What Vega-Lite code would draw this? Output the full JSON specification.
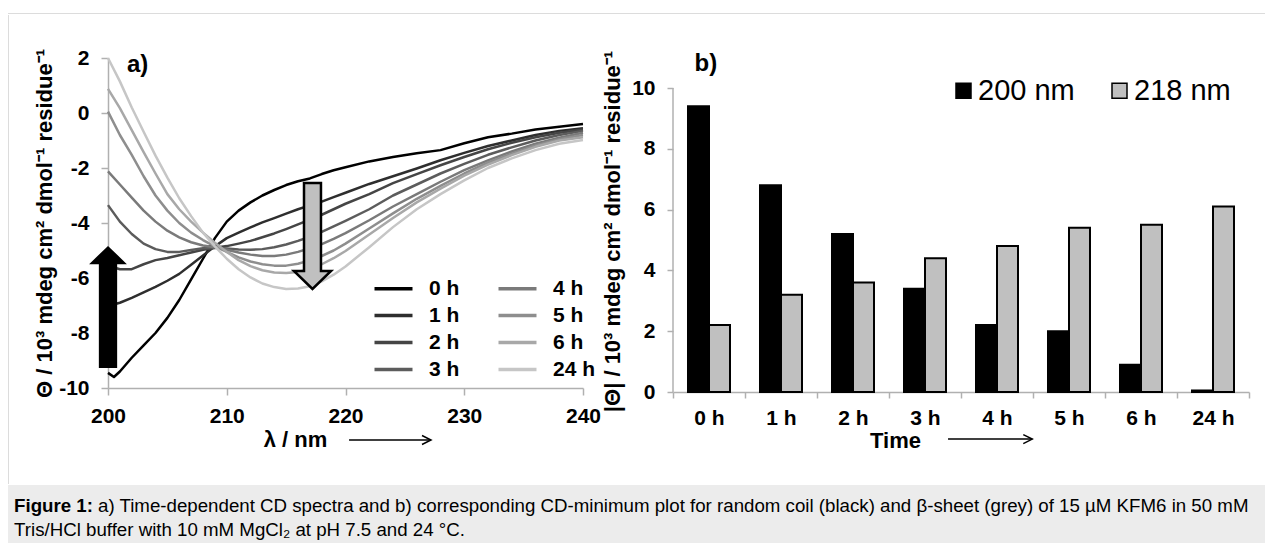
{
  "$schema": "https://vega.github.io/schema/vega-lite/v6.json",
  "background": "white",
  "padding": {"left": 8, "top": 13, "right": 0, "bottom": 0},
  "spacing": 0,
  "config": {
    "view": {"stroke": null},
    "font": "Liberation Sans",
    "axis": {"labelFont": "Liberation Sans", "titleFont": "Liberation Sans", "labelColor": "#000000", "titleColor": "#000000", "labelFontSize": 21, "labelFontWeight": "bold", "titleFontSize": 22, "titleFontWeight": "bold", "domainColor": "#b0b0b0", "tickColor": "#b0b0b0", "domainWidth": 1.5, "tickWidth": 1.5, "grid": false},
    "legend": {"labelFont": "Liberation Sans", "labelColor": "#000000"}
  },
  "datasets": {
    "spectra": [
      {"time":"0 h","nm":200,"v":-9.45},{"time":"0 h","nm":200.5,"v":-9.6},{"time":"0 h","nm":201,"v":-9.4},{"time":"0 h","nm":202,"v":-8.9},{"time":"0 h","nm":203,"v":-8.45},{"time":"0 h","nm":204,"v":-8.0},{"time":"0 h","nm":205,"v":-7.45},{"time":"0 h","nm":206,"v":-6.8},{"time":"0 h","nm":207,"v":-6.05},{"time":"0 h","nm":208,"v":-5.3},{"time":"0 h","nm":209,"v":-4.55},{"time":"0 h","nm":210,"v":-3.95},{"time":"0 h","nm":211,"v":-3.55},{"time":"0 h","nm":212,"v":-3.25},{"time":"0 h","nm":213,"v":-3.0},{"time":"0 h","nm":214,"v":-2.8},{"time":"0 h","nm":215,"v":-2.62},{"time":"0 h","nm":216,"v":-2.48},{"time":"0 h","nm":217,"v":-2.38},{"time":"0 h","nm":218,"v":-2.22},{"time":"0 h","nm":219,"v":-2.08},{"time":"0 h","nm":220,"v":-1.97},{"time":"0 h","nm":222,"v":-1.76},{"time":"0 h","nm":224,"v":-1.6},{"time":"0 h","nm":226,"v":-1.46},{"time":"0 h","nm":228,"v":-1.35},{"time":"0 h","nm":230,"v":-1.1},{"time":"0 h","nm":232,"v":-0.88},{"time":"0 h","nm":234,"v":-0.75},{"time":"0 h","nm":236,"v":-0.6},{"time":"0 h","nm":238,"v":-0.5},{"time":"0 h","nm":240,"v":-0.4},
      {"time":"1 h","nm":200,"v":-7.02},{"time":"1 h","nm":201,"v":-6.9},{"time":"1 h","nm":202,"v":-6.72},{"time":"1 h","nm":203,"v":-6.52},{"time":"1 h","nm":204,"v":-6.32},{"time":"1 h","nm":205,"v":-6.1},{"time":"1 h","nm":206,"v":-5.85},{"time":"1 h","nm":207,"v":-5.52},{"time":"1 h","nm":208,"v":-5.18},{"time":"1 h","nm":209,"v":-4.85},{"time":"1 h","nm":210,"v":-4.55},{"time":"1 h","nm":211,"v":-4.35},{"time":"1 h","nm":212,"v":-4.16},{"time":"1 h","nm":213,"v":-3.98},{"time":"1 h","nm":214,"v":-3.82},{"time":"1 h","nm":215,"v":-3.66},{"time":"1 h","nm":216,"v":-3.5},{"time":"1 h","nm":217,"v":-3.36},{"time":"1 h","nm":218,"v":-3.22},{"time":"1 h","nm":219,"v":-3.06},{"time":"1 h","nm":220,"v":-2.9},{"time":"1 h","nm":222,"v":-2.58},{"time":"1 h","nm":224,"v":-2.3},{"time":"1 h","nm":226,"v":-2.02},{"time":"1 h","nm":228,"v":-1.72},{"time":"1 h","nm":230,"v":-1.45},{"time":"1 h","nm":232,"v":-1.2},{"time":"1 h","nm":234,"v":-1.0},{"time":"1 h","nm":236,"v":-0.8},{"time":"1 h","nm":238,"v":-0.65},{"time":"1 h","nm":240,"v":-0.55},
      {"time":"2 h","nm":200,"v":-5.55},{"time":"2 h","nm":201,"v":-5.68},{"time":"2 h","nm":202,"v":-5.68},{"time":"2 h","nm":203,"v":-5.5},{"time":"2 h","nm":204,"v":-5.35},{"time":"2 h","nm":205,"v":-5.27},{"time":"2 h","nm":206,"v":-5.17},{"time":"2 h","nm":207,"v":-5.07},{"time":"2 h","nm":208,"v":-4.97},{"time":"2 h","nm":209,"v":-4.9},{"time":"2 h","nm":210,"v":-4.84},{"time":"2 h","nm":211,"v":-4.75},{"time":"2 h","nm":212,"v":-4.65},{"time":"2 h","nm":213,"v":-4.52},{"time":"2 h","nm":214,"v":-4.38},{"time":"2 h","nm":215,"v":-4.22},{"time":"2 h","nm":216,"v":-4.05},{"time":"2 h","nm":217,"v":-3.88},{"time":"2 h","nm":218,"v":-3.7},{"time":"2 h","nm":219,"v":-3.5},{"time":"2 h","nm":220,"v":-3.3},{"time":"2 h","nm":222,"v":-2.95},{"time":"2 h","nm":224,"v":-2.55},{"time":"2 h","nm":226,"v":-2.22},{"time":"2 h","nm":228,"v":-1.9},{"time":"2 h","nm":230,"v":-1.6},{"time":"2 h","nm":232,"v":-1.32},{"time":"2 h","nm":234,"v":-1.08},{"time":"2 h","nm":236,"v":-0.88},{"time":"2 h","nm":238,"v":-0.72},{"time":"2 h","nm":240,"v":-0.6},
      {"time":"3 h","nm":200,"v":-3.35},{"time":"3 h","nm":201,"v":-3.95},{"time":"3 h","nm":202,"v":-4.4},{"time":"3 h","nm":203,"v":-4.75},{"time":"3 h","nm":204,"v":-4.95},{"time":"3 h","nm":205,"v":-5.05},{"time":"3 h","nm":206,"v":-5.05},{"time":"3 h","nm":207,"v":-4.98},{"time":"3 h","nm":208,"v":-4.92},{"time":"3 h","nm":209,"v":-4.9},{"time":"3 h","nm":210,"v":-4.93},{"time":"3 h","nm":211,"v":-4.96},{"time":"3 h","nm":212,"v":-4.97},{"time":"3 h","nm":213,"v":-4.95},{"time":"3 h","nm":214,"v":-4.88},{"time":"3 h","nm":215,"v":-4.78},{"time":"3 h","nm":216,"v":-4.65},{"time":"3 h","nm":217,"v":-4.5},{"time":"3 h","nm":218,"v":-4.32},{"time":"3 h","nm":219,"v":-4.12},{"time":"3 h","nm":220,"v":-3.92},{"time":"3 h","nm":222,"v":-3.5},{"time":"3 h","nm":224,"v":-3.0},{"time":"3 h","nm":226,"v":-2.6},{"time":"3 h","nm":228,"v":-2.2},{"time":"3 h","nm":230,"v":-1.85},{"time":"3 h","nm":232,"v":-1.52},{"time":"3 h","nm":234,"v":-1.25},{"time":"3 h","nm":236,"v":-1.0},{"time":"3 h","nm":238,"v":-0.8},{"time":"3 h","nm":240,"v":-0.65},
      {"time":"4 h","nm":200,"v":-2.12},{"time":"4 h","nm":201,"v":-2.6},{"time":"4 h","nm":202,"v":-3.08},{"time":"4 h","nm":203,"v":-3.55},{"time":"4 h","nm":204,"v":-3.95},{"time":"4 h","nm":205,"v":-4.28},{"time":"4 h","nm":206,"v":-4.52},{"time":"4 h","nm":207,"v":-4.7},{"time":"4 h","nm":208,"v":-4.82},{"time":"4 h","nm":209,"v":-4.88},{"time":"4 h","nm":210,"v":-4.97},{"time":"4 h","nm":211,"v":-5.07},{"time":"4 h","nm":212,"v":-5.15},{"time":"4 h","nm":213,"v":-5.2},{"time":"4 h","nm":214,"v":-5.2},{"time":"4 h","nm":215,"v":-5.15},{"time":"4 h","nm":216,"v":-5.05},{"time":"4 h","nm":217,"v":-4.92},{"time":"4 h","nm":218,"v":-4.77},{"time":"4 h","nm":219,"v":-4.58},{"time":"4 h","nm":220,"v":-4.37},{"time":"4 h","nm":222,"v":-3.9},{"time":"4 h","nm":224,"v":-3.4},{"time":"4 h","nm":226,"v":-2.95},{"time":"4 h","nm":228,"v":-2.5},{"time":"4 h","nm":230,"v":-2.08},{"time":"4 h","nm":232,"v":-1.72},{"time":"4 h","nm":234,"v":-1.4},{"time":"4 h","nm":236,"v":-1.12},{"time":"4 h","nm":238,"v":-0.9},{"time":"4 h","nm":240,"v":-0.72},
      {"time":"5 h","nm":200,"v":0.05},{"time":"5 h","nm":201,"v":-0.8},{"time":"5 h","nm":202,"v":-1.52},{"time":"5 h","nm":203,"v":-2.3},{"time":"5 h","nm":204,"v":-3.0},{"time":"5 h","nm":205,"v":-3.55},{"time":"5 h","nm":206,"v":-4.0},{"time":"5 h","nm":207,"v":-4.35},{"time":"5 h","nm":208,"v":-4.62},{"time":"5 h","nm":209,"v":-4.85},{"time":"5 h","nm":210,"v":-5.05},{"time":"5 h","nm":211,"v":-5.25},{"time":"5 h","nm":212,"v":-5.4},{"time":"5 h","nm":213,"v":-5.5},{"time":"5 h","nm":214,"v":-5.55},{"time":"5 h","nm":215,"v":-5.55},{"time":"5 h","nm":216,"v":-5.48},{"time":"5 h","nm":217,"v":-5.36},{"time":"5 h","nm":218,"v":-5.2},{"time":"5 h","nm":219,"v":-5.0},{"time":"5 h","nm":220,"v":-4.75},{"time":"5 h","nm":222,"v":-4.2},{"time":"5 h","nm":224,"v":-3.65},{"time":"5 h","nm":226,"v":-3.12},{"time":"5 h","nm":228,"v":-2.65},{"time":"5 h","nm":230,"v":-2.2},{"time":"5 h","nm":232,"v":-1.8},{"time":"5 h","nm":234,"v":-1.48},{"time":"5 h","nm":236,"v":-1.18},{"time":"5 h","nm":238,"v":-0.95},{"time":"5 h","nm":240,"v":-0.8},
      {"time":"6 h","nm":200,"v":0.88},{"time":"6 h","nm":201,"v":0.18},{"time":"6 h","nm":202,"v":-0.62},{"time":"6 h","nm":203,"v":-1.42},{"time":"6 h","nm":204,"v":-2.2},{"time":"6 h","nm":205,"v":-2.95},{"time":"6 h","nm":206,"v":-3.5},{"time":"6 h","nm":207,"v":-3.95},{"time":"6 h","nm":208,"v":-4.35},{"time":"6 h","nm":209,"v":-4.72},{"time":"6 h","nm":210,"v":-5.05},{"time":"6 h","nm":211,"v":-5.35},{"time":"6 h","nm":212,"v":-5.57},{"time":"6 h","nm":213,"v":-5.72},{"time":"6 h","nm":214,"v":-5.8},{"time":"6 h","nm":215,"v":-5.82},{"time":"6 h","nm":216,"v":-5.78},{"time":"6 h","nm":217,"v":-5.67},{"time":"6 h","nm":218,"v":-5.5},{"time":"6 h","nm":219,"v":-5.28},{"time":"6 h","nm":220,"v":-5.02},{"time":"6 h","nm":222,"v":-4.42},{"time":"6 h","nm":224,"v":-3.82},{"time":"6 h","nm":226,"v":-3.25},{"time":"6 h","nm":228,"v":-2.75},{"time":"6 h","nm":230,"v":-2.28},{"time":"6 h","nm":232,"v":-1.88},{"time":"6 h","nm":234,"v":-1.53},{"time":"6 h","nm":236,"v":-1.23},{"time":"6 h","nm":238,"v":-1.0},{"time":"6 h","nm":240,"v":-0.88},
      {"time":"24 h","nm":200,"v":2.0},{"time":"24 h","nm":201,"v":1.15},{"time":"24 h","nm":202,"v":0.2},{"time":"24 h","nm":203,"v":-0.68},{"time":"24 h","nm":204,"v":-1.55},{"time":"24 h","nm":205,"v":-2.35},{"time":"24 h","nm":206,"v":-3.1},{"time":"24 h","nm":207,"v":-3.75},{"time":"24 h","nm":208,"v":-4.35},{"time":"24 h","nm":209,"v":-4.85},{"time":"24 h","nm":210,"v":-5.3},{"time":"24 h","nm":211,"v":-5.68},{"time":"24 h","nm":212,"v":-5.98},{"time":"24 h","nm":213,"v":-6.2},{"time":"24 h","nm":214,"v":-6.33},{"time":"24 h","nm":215,"v":-6.4},{"time":"24 h","nm":216,"v":-6.38},{"time":"24 h","nm":217,"v":-6.3},{"time":"24 h","nm":218,"v":-6.12},{"time":"24 h","nm":219,"v":-5.88},{"time":"24 h","nm":220,"v":-5.58},{"time":"24 h","nm":222,"v":-4.88},{"time":"24 h","nm":224,"v":-4.15},{"time":"24 h","nm":226,"v":-3.5},{"time":"24 h","nm":228,"v":-2.95},{"time":"24 h","nm":230,"v":-2.45},{"time":"24 h","nm":232,"v":-2.0},{"time":"24 h","nm":234,"v":-1.65},{"time":"24 h","nm":236,"v":-1.35},{"time":"24 h","nm":238,"v":-1.12},{"time":"24 h","nm":240,"v":-0.98}
    ],
    "minima": [
      {"time":"0 h","wl":"200 nm","val":9.4},{"time":"0 h","wl":"218 nm","val":2.2},
      {"time":"1 h","wl":"200 nm","val":6.8},{"time":"1 h","wl":"218 nm","val":3.2},
      {"time":"2 h","wl":"200 nm","val":5.2},{"time":"2 h","wl":"218 nm","val":3.6},
      {"time":"3 h","wl":"200 nm","val":3.4},{"time":"3 h","wl":"218 nm","val":4.4},
      {"time":"4 h","wl":"200 nm","val":2.2},{"time":"4 h","wl":"218 nm","val":4.8},
      {"time":"5 h","wl":"200 nm","val":2.0},{"time":"5 h","wl":"218 nm","val":5.4},
      {"time":"6 h","wl":"200 nm","val":0.9},{"time":"6 h","wl":"218 nm","val":5.5},
      {"time":"24 h","wl":"200 nm","val":0.05},{"time":"24 h","wl":"218 nm","val":6.1}
    ]
  },
  "vconcat": [
    {
      "width": 1257, "height": 1,
      "view": {"fill": "#dcdcdc", "stroke": null},
      "data": {"values": []},
      "mark": "point",
      "encoding": {}
    },
    {
      "spacing": 0,
      "resolve": {"scale": {"color": "independent"}, "legend": {"color": "independent"}},
      "hconcat": [
        {
          "width": 25, "height": 330,
          "data": {"values": [{}]},
          "mark": {"type": "rule", "color": "#dcdcdc", "strokeWidth": 1},
          "encoding": {
            "x": {"datum": 0.02, "type": "quantitative", "scale": {"domain": [0, 1]}, "axis": null},
            "y": {"datum": -0.2909, "type": "quantitative", "scale": {"domain": [0, 1]}, "axis": null},
            "y2": {"datum": 1.1303}
          }
        },
        {
          "width": 475, "height": 330,
          "layer": [
            {
              "data": {"name": "spectra"},
              "mark": {"type": "line", "strokeWidth": 2.5, "strokeJoin": "round"},
              "encoding": {
                "x": {"field": "nm", "type": "quantitative", "scale": {"domain": [200, 240], "nice": false, "zero": false},
                      "axis": {"values": [200, 210, 220, 230, 240], "title": "λ / nm", "titleX": 187, "titlePadding": 3, "labelPadding": 10, "tickSize": 7, "labelFlush": false}},
                "y": {"field": "v", "type": "quantitative", "scale": {"domain": [-10, 2], "nice": false, "zero": false},
                      "axis": {"values": [-10, -8, -6, -4, -2, 0, 2], "title": "Θ / 10³ mdeg cm² dmol⁻¹ residue⁻¹", "titlePadding": 2, "labelPadding": 12, "tickSize": 7, "labelExpr": "datum.value + ''"}},
                "color": {"field": "time", "type": "nominal",
                          "scale": {"domain": ["0 h", "1 h", "2 h", "3 h", "4 h", "5 h", "6 h", "24 h"], "range": ["#000000", "#2e2e2e", "#454545", "#5c5c5c", "#7a7a7a", "#8e8e8e", "#a8a8a8", "#c6c6c6"]},
                          "legend": {"orient": "none", "legendX": 275, "legendY": 220, "columns": 2, "symbolType": "M-2.5,0H2.5", "symbolSize": 231, "symbolStrokeWidth": 3.5, "labelFontSize": 21, "labelFontWeight": "bold", "labelOffset": 25, "rowPadding": 5, "columnPadding": 31, "title": null, "padding": 0}}
              }
            },
            {
              "data": {"values": [{}]},
              "mark": {"type": "point", "shape": "M0,-1L0.31,-0.7L0.15,-0.7L0.15,1L-0.15,1L-0.15,-0.7L-0.31,-0.7Z", "size": 14884, "filled": true, "color": "#000000", "opacity": 1},
              "encoding": {"x": {"datum": 200, "type": "quantitative", "scale": {"domain": [200, 240]}}, "y": {"datum": -7.05, "type": "quantitative", "scale": {"domain": [-10, 2]}}}
            },
            {
              "data": {"values": [{}]},
              "mark": {"type": "point", "shape": "M-0.16,-1L0.16,-1L0.16,0.66L0.35,0.66L0,1L-0.35,0.66L-0.16,0.66Z", "size": 11236, "filled": true, "fill": "#c0c0c0", "stroke": "#000000", "strokeWidth": 2.5, "opacity": 1},
              "encoding": {"x": {"datum": 217.22, "type": "quantitative", "scale": {"domain": [200, 240]}}, "y": {"datum": -4.47, "type": "quantitative", "scale": {"domain": [-10, 2]}}}
            },
            {
              "data": {"values": [{}]},
              "mark": {"type": "text", "text": "a)", "fontSize": 24, "fontWeight": "bold", "align": "left", "baseline": "alphabetic", "font": "Liberation Sans", "color": "#000000"},
              "encoding": {"x": {"datum": 201.6, "type": "quantitative", "scale": {"domain": [200, 240]}}, "y": {"datum": 1.5, "type": "quantitative", "scale": {"domain": [-10, 2]}}}
            },
            {
              "data": {"values": [{}]},
              "mark": {"type": "rule", "color": "#000000", "strokeWidth": 1.5},
              "encoding": {"x": {"datum": 220.3, "type": "quantitative", "scale": {"domain": [200, 240]}}, "x2": {"datum": 227.2}, "y": {"datum": -11.89, "type": "quantitative", "scale": {"domain": [-10, 2]}}}
            },
            {
              "data": {"values": [{}]},
              "mark": {"type": "point", "shape": "M-1,-0.5L0,0L-1,0.5", "size": 324, "filled": false, "stroke": "#000000", "strokeWidth": 1.5, "opacity": 1},
              "encoding": {"x": {"datum": 227.2, "type": "quantitative", "scale": {"domain": [200, 240]}}, "y": {"datum": -11.89, "type": "quantitative", "scale": {"domain": [-10, 2]}}}
            }
          ]
        },
        {
          "width": 576, "height": 334,
          "resolve": {"scale": {"x": "independent"}},
          "layer": [
            {
              "data": {"name": "minima"},
              "mark": {"type": "bar", "stroke": "#000000", "strokeWidth": 2},
              "encoding": {
                "x": {"field": "time", "type": "nominal", "sort": ["0 h", "1 h", "2 h", "3 h", "4 h", "5 h", "6 h", "24 h"], "scale": {"paddingInner": 0, "paddingOuter": 0},
                      "axis": {"title": "Time", "titleX": 222, "titlePadding": 2, "labelPadding": 9, "tickSize": 6, "tickBand": "extent", "labelAngle": 0}},
                "xOffset": {"field": "wl", "type": "nominal", "scale": {"paddingInner": 0, "paddingOuter": 0.714}},
                "y": {"field": "val", "type": "quantitative", "scale": {"domain": [0, 10.987], "nice": false, "zero": true},
                      "axis": {"values": [0, 1, 2, 3, 4, 5, 6, 7, 8, 9, 10], "domain": false, "title": "|Θ| / 10³ mdeg cm² dmol⁻¹ residue⁻¹", "titleY": 173, "titlePadding": 7, "labelPadding": 12, "tickSize": 6}},
                "color": {"field": "wl", "type": "nominal", "scale": {"domain": ["200 nm", "218 nm"], "range": ["#000000", "#c0c0c0"]},
                          "legend": {"orient": "none", "legendX": 276, "legendY": 18, "direction": "horizontal", "symbolType": "square", "symbolSize": 225, "symbolStrokeColor": "#000000", "symbolStrokeWidth": 1.5, "labelFontSize": 29, "labelFontWeight": "normal", "labelOffset": 0, "columnPadding": 30, "title": null, "padding": 0, "labelLimit": 0}}
              }
            },
            {
              "data": {"values": [{}]},
              "mark": {"type": "rule", "color": "#b0b0b0", "strokeWidth": 1.5},
              "encoding": {"x": {"datum": 0, "type": "quantitative", "scale": {"domain": [0, 8]}, "axis": null}, "y": {"datum": 0, "type": "quantitative", "scale": {"domain": [0, 10.987]}}, "y2": {"datum": 10}}
            },
            {
              "data": {"values": [{}]},
              "mark": {"type": "text", "text": "b)", "fontSize": 24, "fontWeight": "bold", "align": "left", "baseline": "alphabetic", "font": "Liberation Sans", "color": "#000000"},
              "encoding": {"x": {"datum": 0.3, "type": "quantitative", "scale": {"domain": [0, 8]}, "axis": null}, "y": {"datum": 10.56, "type": "quantitative", "scale": {"domain": [0, 10.987]}}}
            },
            {
              "data": {"values": [{}]},
              "mark": {"type": "rule", "color": "#000000", "strokeWidth": 1.5},
              "encoding": {"x": {"datum": 3.82, "type": "quantitative", "scale": {"domain": [0, 8]}, "axis": null}, "x2": {"datum": 4.99}, "y": {"datum": -1.55, "type": "quantitative", "scale": {"domain": [0, 10.987]}}}
            },
            {
              "data": {"values": [{}]},
              "mark": {"type": "point", "shape": "M-1,-0.5L0,0L-1,0.5", "size": 324, "filled": false, "stroke": "#000000", "strokeWidth": 1.5, "opacity": 1},
              "encoding": {"x": {"datum": 4.99, "type": "quantitative", "scale": {"domain": [0, 8]}, "axis": null}, "y": {"datum": -1.55, "type": "quantitative", "scale": {"domain": [0, 10.987]}}}
            }
          ]
        }
      ]
    },
    {
      "width": 1257, "height": 60,
      "view": {"fill": "#ececec", "stroke": null},
      "layer": [
        {
          "data": {"values": [{}]},
          "mark": {"type": "text", "text": "Figure 1:", "fontSize": 18.7, "fontWeight": "bold", "align": "left", "baseline": "alphabetic", "font": "Liberation Sans", "color": "#000000"},
          "encoding": {"x": {"datum": 0.0048, "type": "quantitative", "scale": {"domain": [0, 1]}, "axis": null}, "y": {"datum": 0.55, "type": "quantitative", "scale": {"domain": [0, 1]}, "axis": null}}
        },
        {
          "data": {"values": [{}]},
          "mark": {"type": "text", "text": "a) Time-dependent CD spectra and b) corresponding CD-minimum plot for random coil (black) and β-sheet (grey) of 15 µM KFM6 in 50 mM", "fontSize": 18.7, "fontWeight": "normal", "align": "left", "baseline": "alphabetic", "font": "Liberation Sans", "color": "#000000"},
          "encoding": {"x": {"datum": 0.0716, "type": "quantitative", "scale": {"domain": [0, 1]}, "axis": null}, "y": {"datum": 0.55, "type": "quantitative", "scale": {"domain": [0, 1]}, "axis": null}}
        },
        {
          "data": {"values": [{}]},
          "mark": {"type": "text", "text": "Tris/HCl buffer with 10 mM MgCl₂ at pH 7.5 and 24 °C.", "fontSize": 18.7, "fontWeight": "normal", "align": "left", "baseline": "alphabetic", "font": "Liberation Sans", "color": "#000000"},
          "encoding": {"x": {"datum": 0.0048, "type": "quantitative", "scale": {"domain": [0, 1]}, "axis": null}, "y": {"datum": 0.155, "type": "quantitative", "scale": {"domain": [0, 1]}, "axis": null}}
        }
      ]
    }
  ]
}
